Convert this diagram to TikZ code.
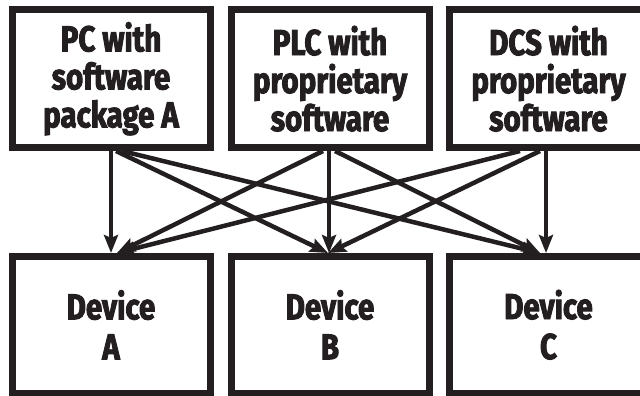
\documentclass[tikz,border=0pt]{standalone}
\usepackage{fontspec}
\newfontfamily\boxfont{Fira Sans}[FakeStretch=0.82,FakeBold=2.5]
\usetikzlibrary{arrows.meta}
\definecolor{ink}{HTML}{231F20}
\begin{document}
\begin{tikzpicture}[x=1pt,y=-1pt,
  box/.style={draw=ink, line width=7pt, minimum width=198pt, inner sep=0pt,
    align=center, text=ink, font=\boxfont\bfseries\fontsize{36}{38}\selectfont},
  topbox/.style={box, minimum height=137.5pt},
  botbox/.style={box, minimum height=136.5pt, font=\boxfont\bfseries\fontsize{36}{40}\selectfont},
  link/.style={draw=ink, line width=4.5pt, -{Stealth[length=18pt,width=14pt,inset=3pt]}}]
\useasboundingbox (0,0) rectangle (640,396);
\clip (0,0) rectangle (640,396);
\fill[white] (0,0) rectangle (640,396);
\node[topbox] (pc)  at (111,78.75)   {PC with\\software\\package A};
\node[topbox] (plc) at (330,78.75)   {PLC with\\proprietary\\software};
\node[topbox] (dcs) at (548.5,78.75) {DCS with\\proprietary\\software};
\node[botbox] (da) at (111,324.75)   {Device\\A};
\node[botbox] (db) at (330,324.75)   {Device\\B};
\node[botbox] (dc) at (548.5,324.75) {Device\\C};
% start points
\coordinate (pcV) at (pc.south);
\coordinate (pcB) at ([xshift=5pt]pc.south);
\coordinate (pcC) at ([xshift=11pt]pc.south);
\coordinate (plcA) at ([xshift=-7pt]plc.south);
\coordinate (plcV) at ([xshift=-1pt]plc.south);
\coordinate (plcC) at ([xshift=5pt]plc.south);
\coordinate (dcsA) at ([xshift=-28.5pt]dcs.south);
\coordinate (dcsB) at ([xshift=-8.5pt]dcs.south);
\coordinate (dcsV) at ([xshift=-2.5pt]dcs.south);
% end points
\coordinate (daV) at (da.north);
\coordinate (daD) at ([xshift=6pt]da.north);
\coordinate (dbV) at ([xshift=-1pt]db.north);
\coordinate (dbD) at ([xshift=-2pt]db.north);
\coordinate (dcV) at ([xshift=-2.5pt]dc.north);
\coordinate (dcD) at ([xshift=-8.5pt]dc.north);
\draw[link] (pcV) -- (daV);
\draw[link] (pcB) -- (dbD);
\draw[link] (pcC) -- (dcD);
\draw[link] (plcA) -- (daD);
\draw[link] (plcV) -- (dbV);
\draw[link] (plcC) -- (dcD);
\draw[link] (dcsA) -- (daD);
\draw[link] (dcsB) -- (dbD);
\draw[link] (dcsV) -- (dcV);
\end{tikzpicture}
\end{document}
